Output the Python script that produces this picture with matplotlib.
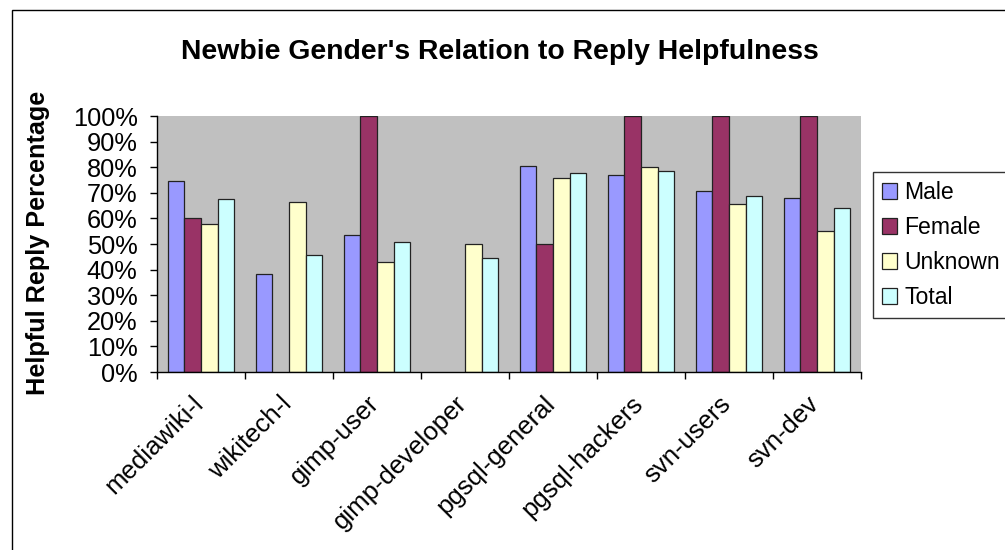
import numpy as np
import matplotlib
matplotlib.use('Agg')
from matplotlib import pyplot as plt
from matplotlib.patches import Rectangle
from matplotlib.ticker import FuncFormatter, FixedLocator
from matplotlib.transforms import ScaledTranslation

plt.rcParams['font.family'] = ['Liberation Sans', 'DejaVu Sans']

lists = ['mediawiki-l', 'wikitech-l', 'gimp-user', 'gimp-developer',
         'pgsql-general', 'pgsql-hackers', 'svn-users', 'svn-dev']
male    = [74.5, 38.4, 53.6, np.nan, 80.4, 76.8, 70.8, 67.9]
female  = [60.1, np.nan, 100, np.nan, 50.0, 100, 100, 100]
unknown = [57.8, 66.6, 43.0, 50.0, 75.8, 79.9, 65.7, 54.9]
total   = [67.5, 45.8, 50.9, 44.4, 77.8, 78.7, 68.8, 63.9]

series = [('Male', male, '#9999FF'),
          ('Female', female, '#993366'),
          ('Unknown', unknown, '#FFFFCC'),
          ('Total', total, '#CCFFFF')]

W, H = 1005, 550
fig = plt.figure(figsize=(W / 100, H / 100), dpi=100)

# chart border (excel style), runs off the right and bottom of the image
fig.patches.append(Rectangle((12 / W, -0.1), 1.2, 1.1 - 10 / H,
                             transform=fig.transFigure, fill=False,
                             edgecolor='black', linewidth=1))

ax = fig.add_axes([157 / W, (H - 372) / H, 704 / W, 256 / H])
ax.set_facecolor('#C0C0C0')

x = np.arange(len(lists))
bw = 0.19
for i, (name, vals, col) in enumerate(series):
    ax.bar(x + (i - 1.5) * bw, np.array(vals, dtype=float) / 100, bw,
           color=col, edgecolor='#222222', linewidth=0.9, label=name, zorder=2)

ax.set_xlim(-0.5, len(lists) - 0.5)
ax.set_ylim(0, 1)
ax.yaxis.set_major_locator(FixedLocator(np.linspace(0, 1, 11)))
ax.yaxis.set_major_formatter(FuncFormatter(lambda v, p: '%d%%' % round(v * 100)))
ax.tick_params(axis='y', direction='out', length=5, width=1, labelsize=18.3, pad=9)

ax.set_xticks(x)
ax.set_xticklabels(lists, rotation=45, ha='right', va='top',
                   rotation_mode='anchor', fontsize=18.5)
ax.tick_params(axis='x', which='major', length=0, pad=14)
shift = ScaledTranslation(-10 / 100, 0, fig.dpi_scale_trans)
for lab in ax.get_xticklabels():
    lab.set_transform(lab.get_transform() + shift)
ax.set_xticks(np.arange(-0.5, len(lists)), minor=True)
ax.tick_params(axis='x', which='minor', direction='out', length=5, width=1)

for s in ['top', 'right']:
    ax.spines[s].set_visible(False)
ax.spines['left'].set_linewidth(1)
ax.spines['bottom'].set_linewidth(1)

fig.text(500 / W, 1 - 52 / H, "Newbie Gender's Relation to Reply Helpfulness",
         ha='center', va='center', fontsize=20.4, fontweight='bold')
fig.text(38 / W, 1 - 243 / H, 'Helpful Reply Percentage', rotation=90,
         ha='center', va='center', fontsize=18.2, fontweight='bold')

leg = fig.legend(loc='upper left', bbox_to_anchor=(873 / W, 1 - 172 / H),
                 bbox_transform=fig.transFigure, borderaxespad=0,
                 fontsize=16.6, frameon=True, fancybox=False,
                 handlelength=0.65, handleheight=0.65, handletextpad=0.32,
                 labelspacing=0.52, borderpad=0.4)
leg.get_frame().set_edgecolor('black')
leg.get_frame().set_linewidth(1)

fig.savefig('out.png', dpi=100)
